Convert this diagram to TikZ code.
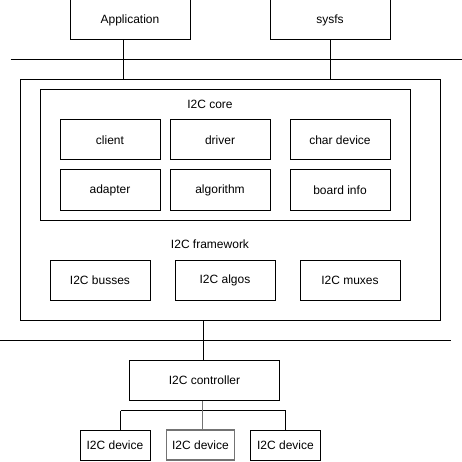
\documentclass[tikz,border=0pt]{standalone}
\usepackage{fontspec}
\setmainfont{Liberation Sans}
\begin{document}
\begin{tikzpicture}[x=1pt,y=-1pt,
  box/.style={draw=black,line width=1pt,fill=white,inner sep=0pt,font=\fontsize{12}{14}\selectfont},
  lbl/.style={inner sep=0pt,font=\fontsize{12}{14}\selectfont},
  wire/.style={draw=black,line width=1pt},
  graywire/.style={draw=black!55,line width=1.3pt}]
\useasboundingbox (0,0) rectangle (462,462);
% outer containers
\node[box,minimum width=420pt,minimum height=240pt] (outer) at (230,200) {};
\node[box,minimum width=370pt,minimum height=130pt] (core) at (225,155) {};
\node[lbl] (coretitle) at (210,104) {I2C core};
\node[lbl] (fwtitle) at (210,244) {I2C framework};
% top
\node[box,minimum width=120pt,minimum height=40pt] (app) at (130,20) {Application};
\node[box,minimum width=120pt,minimum height=40pt] (sysfs) at (330,20) {sysfs};
\coordinate (userL) at (10.7,60);
\coordinate (userR) at (462,60);
\draw[wire] (userL) -- (userR);
\draw[wire] (app.south -| 123.3,0) -- (outer.north -| 123.3,0);
\draw[wire] (sysfs.south) -- (outer.north -| sysfs.south);
% core boxes
\node[box,minimum width=100pt,minimum height=40pt] (client) at (110,140) {client};
\node[box,minimum width=100pt,minimum height=40pt] (driver) at (220,140) {driver};
\node[box,minimum width=100pt,minimum height=40pt] (chardev) at (340,140) {char device};
\node[box,minimum width=100pt,minimum height=40pt] (adapter) at (110,190) {adapter};
\node[box,minimum width=100pt,minimum height=40pt] (algorithm) at (220,190) {algorithm};
\node[box,minimum width=100pt,minimum height=40pt] (boardinfo) at (340,190) {board info};
% framework boxes
\node[box,minimum width=100pt,minimum height=40pt] (busses) at (100,280) {I2C busses};
\node[box,minimum width=100pt,minimum height=40pt] (algos) at (225,280) {I2C algos};
\node[box,minimum width=100pt,minimum height=40pt] (muxes) at (350,280) {I2C muxes};
% kernel / hardware boundary
\coordinate (hwL) at (0,340);
\coordinate (hwR) at (451,340);
\draw[wire] (hwL) -- (hwR);
\node[box,minimum width=150pt,minimum height=40pt] (ctrl) at (204.5,380) {I2C controller};
\draw[wire] (outer.south -| 203.3,0) -- (ctrl.north -| 203.3,0);
% devices
\node[box,minimum width=70pt,minimum height=30pt] (dev1) at (115,445) {I2C device};
\node[box,draw=black!55,line width=1.3pt,minimum width=68pt,minimum height=30pt] (dev2) at (200.5,445) {I2C device};
\node[box,minimum width=70pt,minimum height=30pt] (dev3) at (285.5,445) {I2C device};
\coordinate (busL) at (120.7,410.7);
\coordinate (busR) at (285.7,410.7);
\draw[wire] (busL) -- (busR);
\draw[wire] (busL) -- (dev1.north -| busL);
\draw[wire] (busR) -- (dev3.north -| busR);
\draw[graywire] (ctrl.south -| 202.3,0) -- (dev2.north -| 202.3,0);
\end{tikzpicture}
\end{document}
